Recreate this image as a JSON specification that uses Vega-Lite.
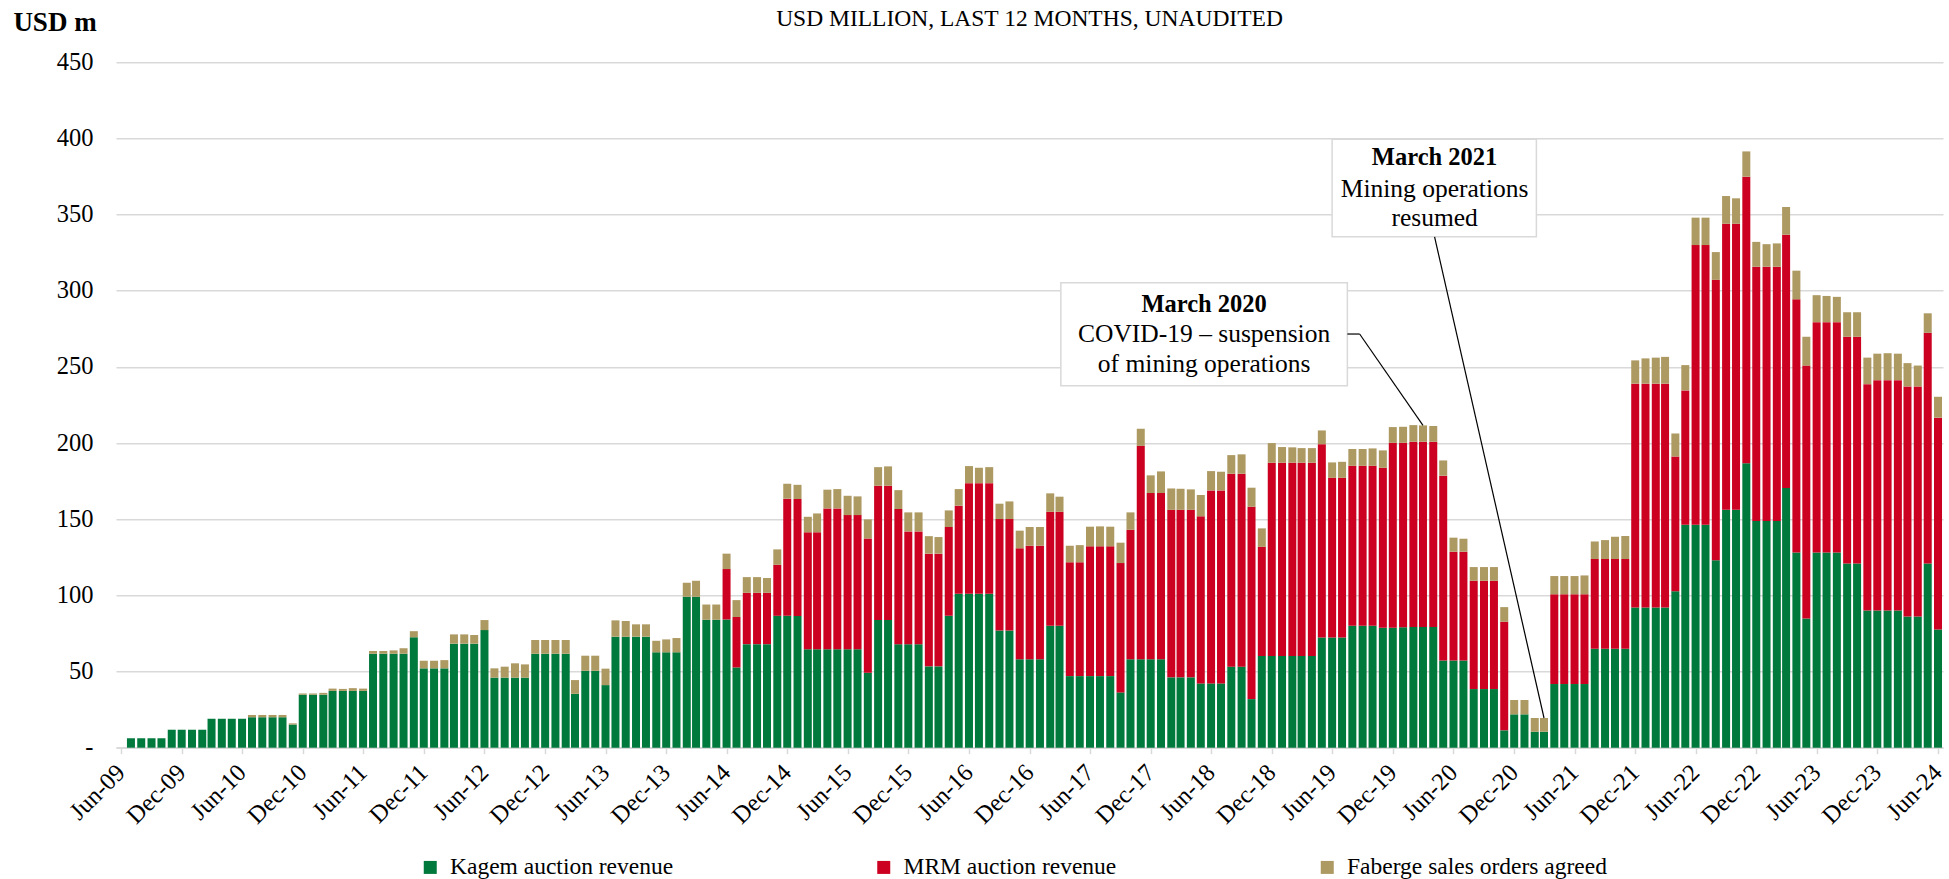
{
  "$schema": "https://vega.github.io/schema/vega-lite/v6.json",
  "width": 1827,
  "height": 685.4,
  "autosize": {"type": "none"},
  "padding": {"left": 116, "top": 62.3, "right": 6, "bottom": 131.3},
  "background": "white",
  "config": {
    "font": "Liberation Serif",
    "view": {"stroke": null},
    "axis": {"labelFont": "Liberation Serif", "titleFont": "Liberation Serif"},
    "legend": {"labelFont": "Liberation Serif"}
  },
  "title": {
    "text": "USD MILLION, LAST 12 MONTHS, UNAUDITED",
    "anchor": "middle",
    "frame": "group",
    "font": "Liberation Serif",
    "fontSize": 23.5,
    "fontWeight": "normal",
    "color": "#000000",
    "baseline": "middle",
    "offset": -34
  },
  "datasets": {
    "bars": [
      {"d":"2009-07-01","kagem":6.2,"mrm":0,"faberge":0},
      {"d":"2009-08-01","kagem":6.2,"mrm":0,"faberge":0},
      {"d":"2009-09-01","kagem":6.2,"mrm":0,"faberge":0},
      {"d":"2009-10-01","kagem":6.2,"mrm":0,"faberge":0},
      {"d":"2009-11-01","kagem":11.8,"mrm":0,"faberge":0},
      {"d":"2009-12-01","kagem":11.8,"mrm":0,"faberge":0},
      {"d":"2010-01-01","kagem":11.8,"mrm":0,"faberge":0},
      {"d":"2010-02-01","kagem":11.8,"mrm":0,"faberge":0},
      {"d":"2010-03-01","kagem":19,"mrm":0,"faberge":0},
      {"d":"2010-04-01","kagem":19,"mrm":0,"faberge":0},
      {"d":"2010-05-01","kagem":19,"mrm":0,"faberge":0},
      {"d":"2010-06-01","kagem":19,"mrm":0,"faberge":0},
      {"d":"2010-07-01","kagem":20,"mrm":0,"faberge":1.5},
      {"d":"2010-08-01","kagem":20,"mrm":0,"faberge":1.5},
      {"d":"2010-09-01","kagem":20,"mrm":0,"faberge":1.5},
      {"d":"2010-10-01","kagem":20,"mrm":0,"faberge":1.5},
      {"d":"2010-11-01","kagem":15.2,"mrm":0,"faberge":0.8},
      {"d":"2010-12-01","kagem":34.8,"mrm":0,"faberge":0.8},
      {"d":"2011-01-01","kagem":34.8,"mrm":0,"faberge":0.8},
      {"d":"2011-02-01","kagem":34.8,"mrm":0,"faberge":1.2},
      {"d":"2011-03-01","kagem":37.3,"mrm":0,"faberge":1.5},
      {"d":"2011-04-01","kagem":37.3,"mrm":0,"faberge":1.3},
      {"d":"2011-05-01","kagem":37.3,"mrm":0,"faberge":1.8},
      {"d":"2011-06-01","kagem":37.3,"mrm":0,"faberge":1.5},
      {"d":"2011-07-01","kagem":61.7,"mrm":0,"faberge":1.8},
      {"d":"2011-08-01","kagem":61.7,"mrm":0,"faberge":1.8},
      {"d":"2011-09-01","kagem":61.7,"mrm":0,"faberge":2.2},
      {"d":"2011-10-01","kagem":61.7,"mrm":0,"faberge":3.6},
      {"d":"2011-11-01","kagem":72.5,"mrm":0,"faberge":4},
      {"d":"2011-12-01","kagem":52.1,"mrm":0,"faberge":5},
      {"d":"2012-01-01","kagem":52.1,"mrm":0,"faberge":5},
      {"d":"2012-02-01","kagem":52.1,"mrm":0,"faberge":5.4},
      {"d":"2012-03-01","kagem":68.3,"mrm":0,"faberge":6.1},
      {"d":"2012-04-01","kagem":68.3,"mrm":0,"faberge":6.1},
      {"d":"2012-05-01","kagem":68.3,"mrm":0,"faberge":5.7},
      {"d":"2012-06-01","kagem":77.2,"mrm":0,"faberge":6.6},
      {"d":"2012-07-01","kagem":46,"mrm":0,"faberge":6.1},
      {"d":"2012-08-01","kagem":46,"mrm":0,"faberge":7.2},
      {"d":"2012-09-01","kagem":46,"mrm":0,"faberge":9.4},
      {"d":"2012-10-01","kagem":46,"mrm":0,"faberge":8.7},
      {"d":"2012-11-01","kagem":61.7,"mrm":0,"faberge":9},
      {"d":"2012-12-01","kagem":61.7,"mrm":0,"faberge":9},
      {"d":"2013-01-01","kagem":61.7,"mrm":0,"faberge":9},
      {"d":"2013-02-01","kagem":61.7,"mrm":0,"faberge":9},
      {"d":"2013-03-01","kagem":35.4,"mrm":0,"faberge":9},
      {"d":"2013-04-01","kagem":50.5,"mrm":0,"faberge":9.9},
      {"d":"2013-05-01","kagem":50.5,"mrm":0,"faberge":9.9},
      {"d":"2013-06-01","kagem":41.1,"mrm":0,"faberge":10.8},
      {"d":"2013-07-01","kagem":72.9,"mrm":0,"faberge":10.7},
      {"d":"2013-08-01","kagem":72.9,"mrm":0,"faberge":10.3},
      {"d":"2013-09-01","kagem":72.9,"mrm":0,"faberge":8.1},
      {"d":"2013-10-01","kagem":72.9,"mrm":0,"faberge":8.1},
      {"d":"2013-11-01","kagem":62.6,"mrm":0,"faberge":7.6},
      {"d":"2013-12-01","kagem":62.6,"mrm":0,"faberge":8.5},
      {"d":"2014-01-01","kagem":62.6,"mrm":0,"faberge":9.4},
      {"d":"2014-02-01","kagem":99.1,"mrm":0,"faberge":9.2},
      {"d":"2014-03-01","kagem":99.1,"mrm":0,"faberge":10.5},
      {"d":"2014-04-01","kagem":84,"mrm":0,"faberge":10},
      {"d":"2014-05-01","kagem":84,"mrm":0,"faberge":10},
      {"d":"2014-06-01","kagem":84.2,"mrm":33.1,"faberge":10.1},
      {"d":"2014-07-01","kagem":52.7,"mrm":33.1,"faberge":11.1},
      {"d":"2014-08-01","kagem":68,"mrm":33.7,"faberge":10.3},
      {"d":"2014-09-01","kagem":68,"mrm":33.7,"faberge":10.3},
      {"d":"2014-10-01","kagem":68,"mrm":33.7,"faberge":9.7},
      {"d":"2014-11-01","kagem":86.6,"mrm":33.5,"faberge":10.1},
      {"d":"2014-12-01","kagem":86.6,"mrm":76.9,"faberge":9.8},
      {"d":"2015-01-01","kagem":86.5,"mrm":76.8,"faberge":9.3},
      {"d":"2015-02-01","kagem":64.6,"mrm":76.8,"faberge":10.2},
      {"d":"2015-03-01","kagem":64.6,"mrm":76.8,"faberge":12.4},
      {"d":"2015-04-01","kagem":64.6,"mrm":92.5,"faberge":12.3},
      {"d":"2015-05-01","kagem":64.6,"mrm":92.5,"faberge":12.7},
      {"d":"2015-06-01","kagem":64.6,"mrm":88.1,"faberge":12.7},
      {"d":"2015-07-01","kagem":64.6,"mrm":88.1,"faberge":12.3},
      {"d":"2015-08-01","kagem":49.2,"mrm":88.2,"faberge":12.5},
      {"d":"2015-09-01","kagem":83.8,"mrm":88.2,"faberge":12.2},
      {"d":"2015-10-01","kagem":83.8,"mrm":88.2,"faberge":12.7},
      {"d":"2015-11-01","kagem":68,"mrm":88.7,"faberge":12.4},
      {"d":"2015-12-01","kagem":68,"mrm":74,"faberge":12.5},
      {"d":"2016-01-01","kagem":68,"mrm":74,"faberge":12.5},
      {"d":"2016-02-01","kagem":53.4,"mrm":74,"faberge":11.5},
      {"d":"2016-03-01","kagem":53.4,"mrm":74,"faberge":10.9},
      {"d":"2016-04-01","kagem":86.7,"mrm":58.2,"faberge":10.9},
      {"d":"2016-05-01","kagem":101.1,"mrm":57.8,"faberge":10.9},
      {"d":"2016-06-01","kagem":101.1,"mrm":72.6,"faberge":11.2},
      {"d":"2016-07-01","kagem":101.1,"mrm":72.6,"faberge":10.1},
      {"d":"2016-08-01","kagem":101.1,"mrm":72.6,"faberge":10.5},
      {"d":"2016-09-01","kagem":77,"mrm":73.1,"faberge":10.1},
      {"d":"2016-10-01","kagem":77,"mrm":73.1,"faberge":11.6},
      {"d":"2016-11-01","kagem":58,"mrm":72.9,"faberge":11.6},
      {"d":"2016-12-01","kagem":58,"mrm":74.6,"faberge":12.3},
      {"d":"2017-01-01","kagem":58,"mrm":74.6,"faberge":12.3},
      {"d":"2017-02-01","kagem":80.1,"mrm":74.8,"faberge":12.1},
      {"d":"2017-03-01","kagem":80.1,"mrm":74.8,"faberge":9.9},
      {"d":"2017-04-01","kagem":47,"mrm":74.7,"faberge":10.9},
      {"d":"2017-05-01","kagem":47,"mrm":74.7,"faberge":11.3},
      {"d":"2017-06-01","kagem":47,"mrm":85.2,"faberge":12.9},
      {"d":"2017-07-01","kagem":47,"mrm":85.2,"faberge":13.1},
      {"d":"2017-08-01","kagem":47,"mrm":85.2,"faberge":12.9},
      {"d":"2017-09-01","kagem":36.3,"mrm":84.9,"faberge":13.4},
      {"d":"2017-10-01","kagem":58,"mrm":85.1,"faberge":11.4},
      {"d":"2017-11-01","kagem":58,"mrm":140.2,"faberge":11.2},
      {"d":"2017-12-01","kagem":58,"mrm":109.2,"faberge":11.6},
      {"d":"2018-01-01","kagem":58,"mrm":109.2,"faberge":14.2},
      {"d":"2018-02-01","kagem":46.2,"mrm":110,"faberge":14},
      {"d":"2018-03-01","kagem":46.2,"mrm":110,"faberge":13.8},
      {"d":"2018-04-01","kagem":46.2,"mrm":110,"faberge":13.4},
      {"d":"2018-05-01","kagem":42.2,"mrm":109.7,"faberge":14},
      {"d":"2018-06-01","kagem":42.2,"mrm":126.7,"faberge":12.7},
      {"d":"2018-07-01","kagem":42.2,"mrm":126.7,"faberge":12.3},
      {"d":"2018-08-01","kagem":53.2,"mrm":126.7,"faberge":12.2},
      {"d":"2018-09-01","kagem":53.2,"mrm":126.7,"faberge":12.7},
      {"d":"2018-10-01","kagem":31.9,"mrm":126.3,"faberge":12.5},
      {"d":"2018-11-01","kagem":60.2,"mrm":71.7,"faberge":12.1},
      {"d":"2018-12-01","kagem":60.2,"mrm":126.9,"faberge":12.9},
      {"d":"2019-01-01","kagem":60.2,"mrm":126.9,"faberge":10.3},
      {"d":"2019-02-01","kagem":60.2,"mrm":126.9,"faberge":10.1},
      {"d":"2019-03-01","kagem":60.2,"mrm":126.9,"faberge":9.6},
      {"d":"2019-04-01","kagem":60.2,"mrm":126.9,"faberge":9.6},
      {"d":"2019-05-01","kagem":72.4,"mrm":126.9,"faberge":9},
      {"d":"2019-06-01","kagem":72.4,"mrm":104.8,"faberge":10.1},
      {"d":"2019-07-01","kagem":72.4,"mrm":104.8,"faberge":10.5},
      {"d":"2019-08-01","kagem":80.1,"mrm":105,"faberge":11},
      {"d":"2019-09-01","kagem":80.1,"mrm":105,"faberge":11},
      {"d":"2019-10-01","kagem":80.1,"mrm":105,"faberge":11.4},
      {"d":"2019-11-01","kagem":78.8,"mrm":105,"faberge":11.4},
      {"d":"2019-12-01","kagem":78.8,"mrm":121.4,"faberge":10.3},
      {"d":"2020-01-01","kagem":79,"mrm":121.2,"faberge":10.5},
      {"d":"2020-02-01","kagem":79.2,"mrm":121.7,"faberge":10.9},
      {"d":"2020-03-01","kagem":79.2,"mrm":121.7,"faberge":10.7},
      {"d":"2020-04-01","kagem":79.2,"mrm":121.7,"faberge":10.3},
      {"d":"2020-05-01","kagem":57.3,"mrm":121.3,"faberge":10},
      {"d":"2020-06-01","kagem":57.3,"mrm":71.4,"faberge":9.2},
      {"d":"2020-07-01","kagem":57.3,"mrm":71.4,"faberge":8.5},
      {"d":"2020-08-01","kagem":38.5,"mrm":71.1,"faberge":9},
      {"d":"2020-09-01","kagem":38.5,"mrm":71.1,"faberge":9},
      {"d":"2020-10-01","kagem":38.5,"mrm":71.1,"faberge":9},
      {"d":"2020-11-01","kagem":11.4,"mrm":71.3,"faberge":9.6},
      {"d":"2020-12-01","kagem":21.9,"mrm":0,"faberge":9.4},
      {"d":"2021-01-01","kagem":21.9,"mrm":0,"faberge":9.4},
      {"d":"2021-02-01","kagem":10.5,"mrm":0,"faberge":9},
      {"d":"2021-03-01","kagem":10.5,"mrm":0,"faberge":9},
      {"d":"2021-04-01","kagem":41.8,"mrm":58.9,"faberge":12},
      {"d":"2021-05-01","kagem":41.8,"mrm":58.9,"faberge":12},
      {"d":"2021-06-01","kagem":41.8,"mrm":58.9,"faberge":12},
      {"d":"2021-07-01","kagem":41.8,"mrm":58.9,"faberge":12.4},
      {"d":"2021-08-01","kagem":65,"mrm":58.9,"faberge":11.5},
      {"d":"2021-09-01","kagem":65,"mrm":58.9,"faberge":12.4},
      {"d":"2021-10-01","kagem":65,"mrm":58.9,"faberge":14.6},
      {"d":"2021-11-01","kagem":65,"mrm":58.9,"faberge":15.1},
      {"d":"2021-12-01","kagem":92.1,"mrm":146.9,"faberge":15.3},
      {"d":"2022-01-01","kagem":92.1,"mrm":146.9,"faberge":16.6},
      {"d":"2022-02-01","kagem":92.1,"mrm":146.9,"faberge":17.1},
      {"d":"2022-03-01","kagem":92.1,"mrm":146.9,"faberge":17.6},
      {"d":"2022-04-01","kagem":102.7,"mrm":88.5,"faberge":15.1},
      {"d":"2022-05-01","kagem":146.3,"mrm":88.3,"faberge":16.6},
      {"d":"2022-06-01","kagem":146.3,"mrm":183.7,"faberge":18},
      {"d":"2022-07-01","kagem":146.3,"mrm":183.7,"faberge":18},
      {"d":"2022-08-01","kagem":123,"mrm":184.2,"faberge":18.2},
      {"d":"2022-09-01","kagem":156.2,"mrm":187.8,"faberge":18.2},
      {"d":"2022-10-01","kagem":156.2,"mrm":187.8,"faberge":16.7},
      {"d":"2022-11-01","kagem":186.8,"mrm":188.1,"faberge":16.6},
      {"d":"2022-12-01","kagem":148.9,"mrm":166.9,"faberge":16.3},
      {"d":"2023-01-01","kagem":148.9,"mrm":166.9,"faberge":14.8},
      {"d":"2023-02-01","kagem":148.9,"mrm":166.9,"faberge":15.3},
      {"d":"2023-03-01","kagem":170.5,"mrm":166.3,"faberge":18.2},
      {"d":"2023-04-01","kagem":128.2,"mrm":166.2,"faberge":18.8},
      {"d":"2023-05-01","kagem":84.8,"mrm":166.1,"faberge":18.9},
      {"d":"2023-06-01","kagem":128.2,"mrm":151.2,"faberge":17.7},
      {"d":"2023-07-01","kagem":128.2,"mrm":151.2,"faberge":17.2},
      {"d":"2023-08-01","kagem":128.2,"mrm":151.2,"faberge":16.6},
      {"d":"2023-09-01","kagem":120.9,"mrm":148.9,"faberge":16.1},
      {"d":"2023-10-01","kagem":120.9,"mrm":148.9,"faberge":16.1},
      {"d":"2023-11-01","kagem":90,"mrm":148.7,"faberge":17.4},
      {"d":"2023-12-01","kagem":90,"mrm":151.3,"faberge":17.4},
      {"d":"2024-01-01","kagem":90,"mrm":151.3,"faberge":17.7},
      {"d":"2024-02-01","kagem":90,"mrm":151.3,"faberge":17.4},
      {"d":"2024-03-01","kagem":86.1,"mrm":151.1,"faberge":15.3},
      {"d":"2024-04-01","kagem":86.1,"mrm":151.1,"faberge":13.7},
      {"d":"2024-05-01","kagem":120.9,"mrm":151.5,"faberge":12.8},
      {"d":"2024-06-01","kagem":77.6,"mrm":139.1,"faberge":13.7}
    ],
    "boxes": [
      {"x1":"2019-06-01","x2":"2021-02-06","y1":399.5,"y2":335.4},
      {"x1":"2017-03-05","x2":"2019-07-17","y1":305.3,"y2":237.7}
    ],
    "notes": [
      {"x":"2020-04-05","y":382.3,"t":"March 2021","bold":true},
      {"x":"2020-04-05","y":361.8,"t":"Mining operations","bold":false},
      {"x":"2020-04-05","y":342.3,"t":"resumed","bold":false},
      {"x":"2018-05-11","y":286.3,"t":"March 2020","bold":true},
      {"x":"2018-05-11","y":266.2,"t":"COVID-19 – suspension","bold":false},
      {"x":"2018-05-11","y":246.9,"t":"of mining operations","bold":false}
    ],
    "leaders": [
      {"x1":"2020-04-05","y1":335.4,"x2":"2021-03-01","y2":19.5},
      {"x1":"2019-07-17","y1":271.6,"x2":"2019-08-23","y2":271.6},
      {"x1":"2019-08-23","y1":271.6,"x2":"2020-03-01","y2":211.6}
    ]
  },
  "layer": [
    {
      "data": {"name": "bars"},
      "transform": [
        {"fold": ["kagem", "mrm", "faberge"], "as": ["s", "v"]},
        {"window": [{"op": "row_number", "as": "stackorder"}], "groupby": ["d"]}
      ],
      "mark": {"type": "bar", "size": 8},
      "encoding": {
        "x": {
          "field": "d",
          "type": "temporal",
          "scale": {
            "type": "utc",
            "nice": false,
            "domain": [
              {"year": 2009, "month": 6, "date": 1, "utc": true},
              {"year": 2024, "month": 6, "date": 1, "utc": true}
            ]
          },
          "axis": {
            "title": null,
            "format": "%b-%y",
            "values": [
              {"year": 2009, "month": 6, "date": 1, "utc": true},
              {"year": 2009, "month": 12, "date": 1, "utc": true},
              {"year": 2010, "month": 6, "date": 1, "utc": true},
              {"year": 2010, "month": 12, "date": 1, "utc": true},
              {"year": 2011, "month": 6, "date": 1, "utc": true},
              {"year": 2011, "month": 12, "date": 1, "utc": true},
              {"year": 2012, "month": 6, "date": 1, "utc": true},
              {"year": 2012, "month": 12, "date": 1, "utc": true},
              {"year": 2013, "month": 6, "date": 1, "utc": true},
              {"year": 2013, "month": 12, "date": 1, "utc": true},
              {"year": 2014, "month": 6, "date": 1, "utc": true},
              {"year": 2014, "month": 12, "date": 1, "utc": true},
              {"year": 2015, "month": 6, "date": 1, "utc": true},
              {"year": 2015, "month": 12, "date": 1, "utc": true},
              {"year": 2016, "month": 6, "date": 1, "utc": true},
              {"year": 2016, "month": 12, "date": 1, "utc": true},
              {"year": 2017, "month": 6, "date": 1, "utc": true},
              {"year": 2017, "month": 12, "date": 1, "utc": true},
              {"year": 2018, "month": 6, "date": 1, "utc": true},
              {"year": 2018, "month": 12, "date": 1, "utc": true},
              {"year": 2019, "month": 6, "date": 1, "utc": true},
              {"year": 2019, "month": 12, "date": 1, "utc": true},
              {"year": 2020, "month": 6, "date": 1, "utc": true},
              {"year": 2020, "month": 12, "date": 1, "utc": true},
              {"year": 2021, "month": 6, "date": 1, "utc": true},
              {"year": 2021, "month": 12, "date": 1, "utc": true},
              {"year": 2022, "month": 6, "date": 1, "utc": true},
              {"year": 2022, "month": 12, "date": 1, "utc": true},
              {"year": 2023, "month": 6, "date": 1, "utc": true},
              {"year": 2023, "month": 12, "date": 1, "utc": true},
              {"year": 2024, "month": 6, "date": 1, "utc": true}
            ],
            "labelAngle": -45,
            "labelAlign": "right",
            "labelBaseline": "middle",
            "labelFontSize": 24.5,
            "labelColor": "#000000",
            "labelPadding": 15,
            "labelOverlap": false,
            "labelFlush": false,
            "labelBound": false,
            "grid": false,
            "domainColor": "#d9d9d9",
            "domainWidth": 1.5,
            "tickColor": "#d9d9d9",
            "tickWidth": 1.5,
            "tickSize": 6
          }
        },
        "y": {
          "field": "v",
          "type": "quantitative",
          "stack": "zero",
          "scale": {"domain": [0, 450], "nice": false},
          "axis": {
            "values": [0, 50, 100, 150, 200, 250, 300, 350, 400, 450],
            "labelExpr": "datum.value === 0 ? '-' : datum.label",
            "domain": false,
            "ticks": false,
            "tickSize": 0,
            "labelPadding": 23,
            "labelFontSize": 24.5,
            "labelColor": "#000000",
            "gridColor": "#d9d9d9",
            "gridWidth": 1.5,
            "title": "USD m",
            "titleAngle": 0,
            "titleX": -61.5,
            "titleY": -40,
            "titleAlign": "center",
            "titleBaseline": "middle",
            "titleFontSize": 27,
            "titleFontWeight": "bold",
            "titleColor": "#000000"
          }
        },
        "order": {"field": "stackorder", "type": "quantitative", "sort": "ascending"},
        "color": {
          "field": "s",
          "type": "nominal",
          "scale": {"domain": ["kagem", "mrm", "faberge"], "range": ["#00793D", "#CC0020", "#AD9962"]},
          "legend": {
            "title": null,
            "orient": "none",
            "legendX": 302.5,
            "legendY": 793,
            "direction": "horizontal",
            "columns": 3,
            "gridAlign": "each",
            "columnPadding": 198.5,
            "symbolType": "square",
            "symbolSize": 169,
            "symbolStrokeWidth": 0,
            "labelFontSize": 23.5,
            "labelColor": "#000000",
            "labelOffset": 8,
            "labelLimit": 400,
            "labelExpr": "datum.value === 'kagem' ? 'Kagem auction revenue' : datum.value === 'mrm' ? 'MRM auction revenue' : 'Faberge sales orders agreed'"
          }
        }
      }
    },
    {
      "data": {"name": "boxes"},
      "mark": {"type": "rect", "fill": "#ffffff", "stroke": "#d9d9d9", "strokeWidth": 1.5},
      "encoding": {
        "x": {"field": "x1", "type": "temporal", "scale": {"type": "utc"}, "axis": {"title": null}},
        "x2": {"field": "x2"},
        "y": {"field": "y1", "type": "quantitative", "axis": {"title": "USD m"}},
        "y2": {"field": "y2"}
      }
    },
    {
      "data": {"name": "notes"},
      "transform": [{"filter": {"field": "bold", "equal": true}}],
      "mark": {"type": "text", "font": "Liberation Serif", "fontSize": 24.5, "fontWeight": "bold", "align": "center", "baseline": "alphabetic", "color": "#000000"},
      "encoding": {
        "x": {"field": "x", "type": "temporal", "scale": {"type": "utc"}, "axis": {"title": null}},
        "y": {"field": "y", "type": "quantitative", "axis": {"title": "USD m"}},
        "text": {"field": "t"}
      }
    },
    {
      "data": {"name": "notes"},
      "transform": [{"filter": {"field": "bold", "equal": false}}],
      "mark": {"type": "text", "font": "Liberation Serif", "fontSize": 25.5, "fontWeight": "normal", "align": "center", "baseline": "alphabetic", "color": "#000000"},
      "encoding": {
        "x": {"field": "x", "type": "temporal", "scale": {"type": "utc"}, "axis": {"title": null}},
        "y": {"field": "y", "type": "quantitative", "axis": {"title": "USD m"}},
        "text": {"field": "t"}
      }
    },
    {
      "data": {"name": "leaders"},
      "mark": {"type": "rule", "color": "#000000", "strokeWidth": 1.2},
      "encoding": {
        "x": {"field": "x1", "type": "temporal", "scale": {"type": "utc"}, "axis": {"title": null}},
        "x2": {"field": "x2"},
        "y": {"field": "y1", "type": "quantitative", "axis": {"title": "USD m"}},
        "y2": {"field": "y2"}
      }
    }
  ]
}
